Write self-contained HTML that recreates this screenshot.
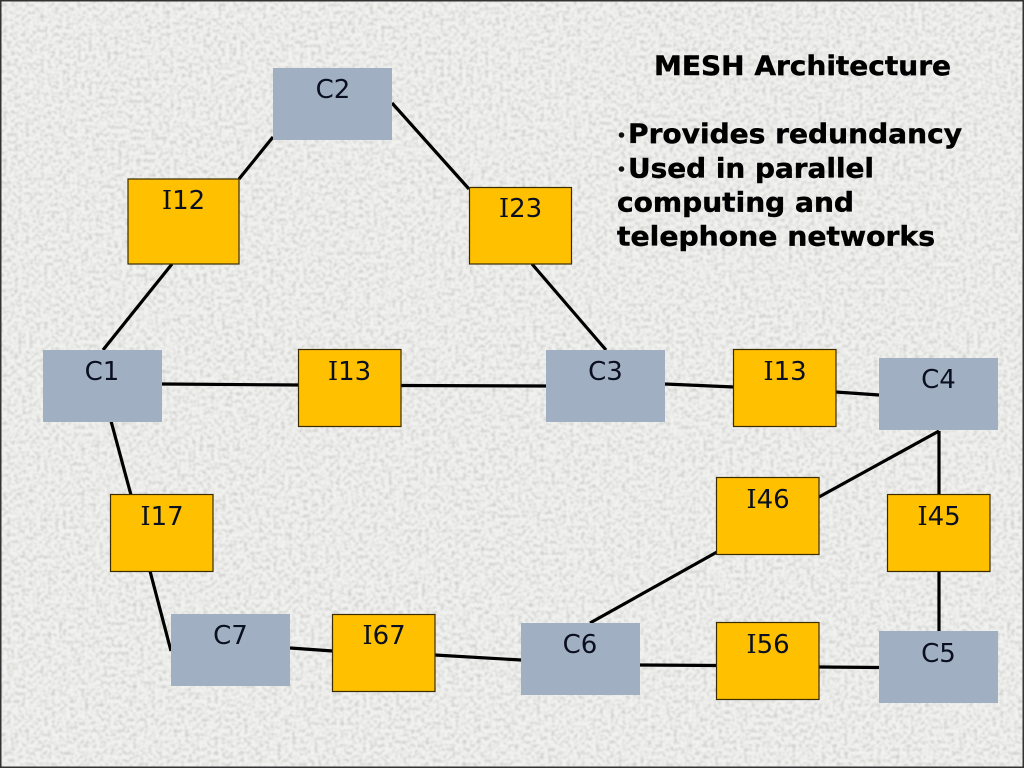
<!DOCTYPE html>
<html>
<head>
<meta charset="utf-8">
<style>
html,body{margin:0;padding:0;width:1024px;height:768px;overflow:hidden;background:#ecece9}
svg{display:block}
text{font-family:"DejaVu Sans","Liberation Sans",sans-serif;fill:#0a1020}
.l{font-size:26px;text-anchor:middle}
.s{font-family:"DejaVu Serif","Liberation Serif",serif}
.b{font-weight:bold;fill:#000;font-size:27px;stroke:#000;stroke-width:.45px}
.c{fill:#a1afc2}
.i{fill:#ffc000;stroke:#3a2c00;stroke-width:1.2}
.w{stroke:#000;stroke-width:3.2;fill:none}
</style>
</head>
<body>
<svg width="1024" height="768" viewBox="0 0 1024 768" xmlns="http://www.w3.org/2000/svg">
<defs>
<filter id="n" x="0" y="0" width="100%" height="100%">
<feTurbulence type="fractalNoise" baseFrequency="0.27" numOctaves="4" seed="11"/>
<feColorMatrix type="matrix" values="0 0 0 0 0.60  0 0 0 0 0.60  0 0 0 0 0.58  2.4 0 0 0 -1.02"/>
<feGaussianBlur stdDeviation="0.7"/>
</filter>
</defs>
<rect width="1024" height="768" fill="#f2f2f0"/>
<rect width="1024" height="768" filter="url(#n)"/>
<rect x="0.75" y="0.75" width="1022.500" height="766.500" fill="none" stroke="#333" stroke-width="1.5"/>

<line class="w" x1="273" y1="137" x2="239" y2="179"/>
<line class="w" x1="392" y1="103" x2="469" y2="189"/>
<line class="w" x1="172" y1="264" x2="103" y2="350"/>
<line class="w" x1="532" y1="264" x2="606" y2="350"/>
<line class="w" x1="162" y1="384" x2="299" y2="385"/>
<line class="w" x1="401" y1="385.500" x2="546" y2="386"/>
<line class="w" x1="665" y1="384" x2="734" y2="387"/>
<line class="w" x1="836" y1="392" x2="879" y2="395"/>
<line class="w" x1="111" y1="421" x2="131" y2="495"/>
<line class="w" x1="150" y1="571" x2="171" y2="651"/>
<line class="w" x1="290" y1="648" x2="333" y2="651"/>
<line class="w" x1="435" y1="655" x2="521" y2="660"/>
<line class="w" x1="590" y1="623" x2="717" y2="552"/>
<line class="w" x1="819" y1="497" x2="939" y2="431"/>
<line class="w" x1="939" y1="431" x2="939" y2="495"/>
<line class="w" x1="939" y1="571" x2="939" y2="632"/>
<line class="w" x1="640" y1="665" x2="717" y2="665.500"/>
<line class="w" x1="819" y1="667" x2="879" y2="667.500"/>

<rect class="c" x="273" y="68" width="119" height="72"/>
<rect class="c" x="43" y="350" width="119" height="72"/>
<rect class="c" x="546" y="350" width="119" height="72"/>
<rect class="c" x="879" y="358" width="119" height="72"/>
<rect class="c" x="879" y="631" width="119" height="72"/>
<rect class="c" x="521" y="623" width="119" height="72"/>
<rect class="c" x="171" y="614" width="119" height="72"/>

<rect class="i" x="128" y="179" width="111" height="85"/>
<rect class="i" x="469.500" y="187.500" width="102" height="76.500"/>
<rect class="i" x="298.500" y="349.500" width="102.500" height="77"/>
<rect class="i" x="733.500" y="349.500" width="102.500" height="77"/>
<rect class="i" x="716.500" y="477.500" width="102.500" height="77"/>
<rect class="i" x="887.500" y="494.500" width="102.500" height="77"/>
<rect class="i" x="110.500" y="494.500" width="102.500" height="77"/>
<rect class="i" x="332.500" y="614.500" width="102.500" height="77"/>
<rect class="i" x="716.500" y="622.500" width="102.500" height="77"/>

<text class="l" x="333" y="98">C2</text>
<text class="l" x="183.500" y="209"><tspan class="s">I</tspan>12</text>
<text class="l" x="520.500" y="217"><tspan class="s">I</tspan>23</text>
<text class="l" x="102" y="380">C1</text>
<text class="l" x="349.500" y="380"><tspan class="s">I</tspan>13</text>
<text class="l" x="605.500" y="380">C3</text>
<text class="l" x="785" y="380"><tspan class="s">I</tspan>13</text>
<text class="l" x="938.500" y="388">C4</text>
<text class="l" x="768" y="508"><tspan class="s">I</tspan>46</text>
<text class="l" x="939" y="525"><tspan class="s">I</tspan>45</text>
<text class="l" x="162" y="525"><tspan class="s">I</tspan>17</text>
<text class="l" x="230.500" y="644">C7</text>
<text class="l" x="384" y="644"><tspan class="s">I</tspan>67</text>
<text class="l" x="580" y="653">C6</text>
<text class="l" x="768" y="653"><tspan class="s">I</tspan>56</text>
<text class="l" x="938.500" y="662">C5</text>

<text class="b" x="654" y="75" textLength="297" lengthAdjust="spacingAndGlyphs">MESH Architecture</text>
<circle cx="621.500" cy="135" r="2.800" fill="#111"/>
<circle cx="621.500" cy="169" r="2.800" fill="#111"/>
<text class="b" x="628" y="143" textLength="334" lengthAdjust="spacingAndGlyphs">Provides redundancy</text>
<text class="b" x="628" y="177.500" textLength="246" lengthAdjust="spacingAndGlyphs">Used in parallel</text>
<text class="b" x="617" y="211.500" textLength="237" lengthAdjust="spacingAndGlyphs">computing and</text>
<text class="b" x="617" y="245.500" textLength="318" lengthAdjust="spacingAndGlyphs">telephone networks</text>
</svg>
</body>
</html>
